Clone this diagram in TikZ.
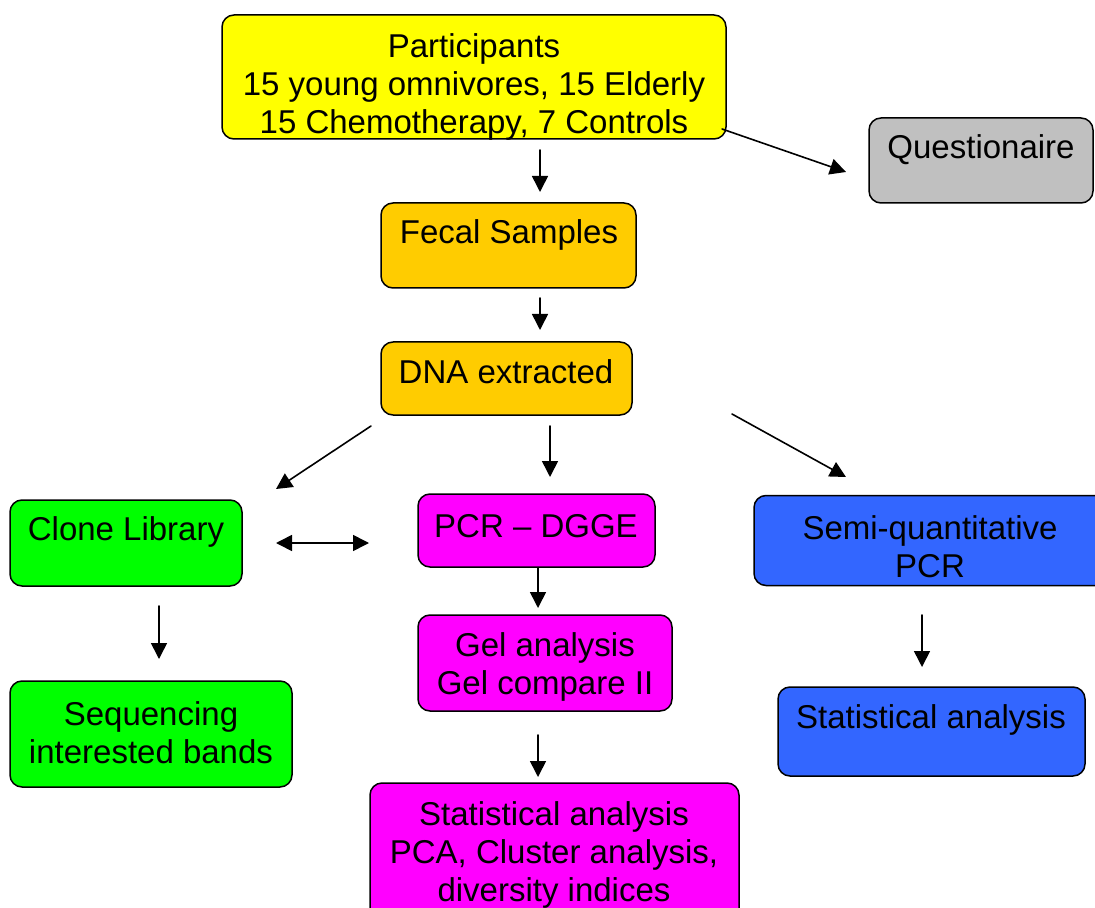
\documentclass[tikz,border=0pt]{standalone}
\usepackage{fontspec}
\setmainfont{Liberation Sans}
\usepackage{tikz}
\usetikzlibrary{arrows.meta}

\definecolor{partyellow}{HTML}{FFFF00}
\definecolor{sampleorange}{HTML}{FFCC00}
\definecolor{questgray}{HTML}{C0C0C0}
\definecolor{clonegreen}{HTML}{00FF00}
\definecolor{dggemagenta}{HTML}{FF00FF}
\definecolor{pcrblue}{HTML}{3366FF}

\begin{document}
\begin{tikzpicture}[
  x=0.5pt,y=-0.5pt,
  line cap=round,
  line join=round,
  box/.style={draw=black,line width=0.75pt,rounded corners=6pt,inner sep=0pt},
  txt/.style={font=\fontsize{16.5}{19}\selectfont,align=center,inner sep=0pt},
  arr/.style={draw=black,line width=0.8pt,-{Triangle[length=8pt,width=8pt]}},
  dblarr/.style={draw=black,line width=0.8pt,{Triangle[length=8pt,width=8pt]}-{Triangle[length=8pt,width=8pt]}}
]
  \useasboundingbox (0,0) rectangle (1095,908);

  % Boxes
  \node[box,fill=partyellow,minimum width=252pt,minimum height=62pt] (participants) at (474,77) {};
  \node[box,fill=questgray,minimum width=112pt,minimum height=42.5pt] (quest) at (981,160.5) {};
  \node[box,fill=sampleorange,minimum width=127.5pt,minimum height=42.5pt] (fecal) at (508.5,245.5) {};
  \node[box,fill=sampleorange,minimum width=125.5pt,minimum height=36.5pt] (dna) at (506.5,378.5) {};
  \node[box,fill=clonegreen,minimum width=116pt,minimum height=43pt] (clone) at (126,543) {};
  \node[box,fill=dggemagenta,minimum width=118.5pt,minimum height=36.5pt] (dgge) at (536.5,530.5) {};
  \node[box,fill=pcrblue,minimum width=178pt,minimum height=45pt] (semi) at (932,540.5) {};
  \node[box,fill=dggemagenta,minimum width=127pt,minimum height=48pt] (gel) at (545,663) {};
  \node[box,fill=clonegreen,minimum width=141pt,minimum height=53pt] (seq) at (151,734) {};
  \node[box,fill=pcrblue,minimum width=153.5pt,minimum height=44.5pt] (statpcr) at (931.5,731.5) {};
  \node[box,fill=dggemagenta,minimum width=184.5pt,minimum height=73.5pt] (statdgge) at (554.5,856.5) {};

  % Labels
  \node[txt] (participantstxt) at (474,87) {Participants\\15 young omnivores, 15 Elderly\\15 Chemotherapy, 7 Controls};
  \node[txt] (questtxt) at (981,150) {Questionaire};
  \node[txt] (fecaltxt) at (509,235) {Fecal Samples};
  \node[txt] (dnatxt) at (506,372) {DNA extracted};
  \node[txt] (clonetxt) at (126,532) {Clone Library};
  \node[txt] (dggetxt) at (536,526) {PCR – DGGE};
  \node[txt] (semitxt) at (930,547) {Semi-quantitative\\PCR};
  \node[txt] (geltxt) at (545,667) {Gel analysis\\Gel compare II};
  \node[txt] (seqtxt) at (151,733) {Sequencing\\interested bands};
  \node[txt] (statpcrtxt) at (931,720) {Statistical analysis};
  \node[txt] (statdggetxt) at (554,855) {Statistical analysis\\PCA, Cluster analysis,\\diversity indices};

  % Arrow ends
  \coordinate (a1) at (540,150);  \coordinate (b1) at (540,192);
  \coordinate (a2) at (722,129);  \coordinate (b2) at (846,172);
  \coordinate (a3) at (540,298);  \coordinate (b3) at (540,330);
  \coordinate (a4) at (371,426);  \coordinate (b4) at (276,489);
  \coordinate (a5) at (550,426);  \coordinate (b5) at (550,477);
  \coordinate (a6) at (732,414);  \coordinate (b6) at (846,477);
  \coordinate (a7) at (276,543);  \coordinate (b7) at (369,543);
  \coordinate (a8) at (538,568);  \coordinate (b8) at (538,608);
  \coordinate (a9) at (159,606);  \coordinate (b9) at (159,659);
  \coordinate (a10) at (922,615); \coordinate (b10) at (922,667);
  \coordinate (a11) at (538,735); \coordinate (b11) at (538,777);

  % Arrows
  \draw[arr] (a1) -- (b1);
  \draw[arr] (a2) -- (b2);
  \draw[arr] (a3) -- (b3);
  \draw[arr] (a4) -- (b4);
  \draw[arr] (a5) -- (b5);
  \draw[arr] (a6) -- (b6);
  \draw[dblarr] (a7) -- (b7);
  \draw[arr] (a8) -- (b8);
  \draw[arr] (a9) -- (b9);
  \draw[arr] (a10) -- (b10);
  \draw[arr] (a11) -- (b11);
\end{tikzpicture}
\end{document}
